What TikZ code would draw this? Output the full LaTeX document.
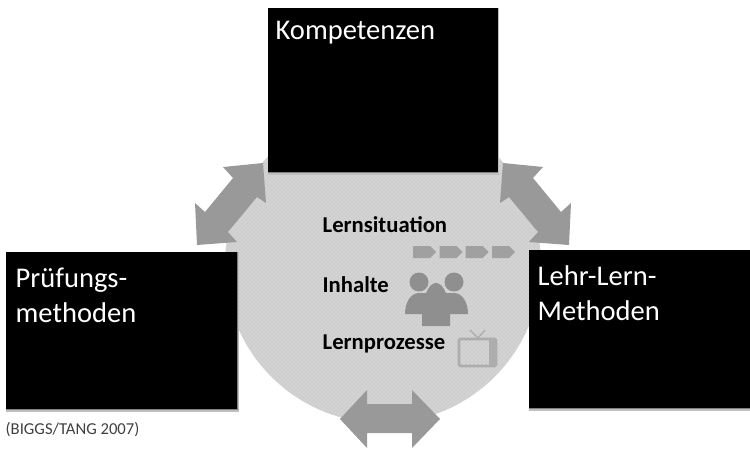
\documentclass[tikz,border=0pt]{standalone}
\usepackage{fontspec}
\setmainfont{Carlito}
\usepackage{tikz}
\usetikzlibrary{patterns}

\definecolor{discgray}{gray}{0.83}
\definecolor{dotgray}{gray}{0.72}
\definecolor{arrowgray}{gray}{0.6}
\definecolor{icongray}{gray}{0.56}
\definecolor{tvgray}{gray}{0.68}

\tikzset{
  boxlabel/.style={anchor=west, align=left, text=white, font=\fontsize{21.4}{26}\selectfont, inner sep=0pt},
  midlabel/.style={anchor=west, font=\fontsize{17}{20}\selectfont\bfseries, inner sep=0pt},
}

\begin{document}
\begin{tikzpicture}[x=0.75pt, y=-0.75pt, line width=1pt]

\useasboundingbox (0, 0) rectangle (750, 450);

% draw disc
\fill[color=discgray] (383, 265) circle (158);
\fill[pattern=crosshatch dots, pattern color=dotgray] (383, 265) circle (158);

% draw double arrows
\fill[color=arrowgray] (263, 163) -- (223, 167) -- (233, 178) -- (205, 212) -- (195, 203) -- (197, 245)
                    -- (237, 242) -- (228, 232) -- (257, 197) -- (266, 203) -- cycle;
\fill[color=arrowgray] (503, 163) -- (543, 167) -- (533, 178) -- (561, 212) -- (571, 203) -- (569, 245)
                    -- (529, 242) -- (538, 232) -- (509, 197) -- (500, 203) -- cycle;
\fill[color=arrowgray] (340, 419) -- (367, 390) -- (367, 404) -- (412, 404) -- (412, 390) -- (440, 419)
                    -- (412, 448) -- (412, 433) -- (367, 433) -- (367, 448) -- cycle;

% draw box shadows
\fill[color=black!25] (268, 8) rectangle (499, 175);
\fill[color=black!25] (6, 252) rectangle (239, 412);
\fill[color=black!25] (529, 250) rectangle (750, 411);
\fill[color=black!50] (268, 8) rectangle (498, 173);
\fill[color=black!50] (6, 252) rectangle (238, 410);
\fill[color=black!50] (529, 250) rectangle (750, 409);

% draw boxes
\fill[color=black] (268, 8) rectangle (498, 172);
\fill[color=black] (6, 252) rectangle (237, 409);
\fill[color=black] (529, 250) rectangle (750, 408);

% draw chevrons
\foreach \x in {413, 439.5, 465.5, 492} {
  \fill[color=icongray!85] (\x, 246) -- ++(17, 0) -- ++(6, 6) -- ++(-6, 6) -- ++(-17, 0) -- cycle;
}

% draw people
\fill[color=icongray] (419, 282) circle (9.5);
\fill[color=icongray] (454, 282) circle (9.5);
\fill[color=icongray] (405, 314) .. controls (405, 302) and (411, 293) .. (419, 293)
                   -- (454, 293) .. controls (462, 293) and (468, 302) .. (468, 314) -- cycle;
\fill[color=icongray] (422, 326) -- (422, 312) .. controls (423, 298) and (428, 283) .. (436, 283)
                   .. controls (444, 283) and (449, 298) .. (450, 312) -- (450, 326) -- cycle;

% draw tv
\draw[color=tvgray, line width=2pt, rounded corners=1pt] (459, 339) rectangle (496, 366);
\fill[color=tvgray] (489, 339) rectangle (496, 366);
\draw[color=tvgray, line width=1pt] (470, 330) -- (478, 338) -- (485, 330);

% draw labels
\node[boxlabel] (kompetenzen) at (275, 33) {Kompetenzen};
\node[boxlabel] (pruefung) at (15, 295) {Prüfungs-\\methoden};
\node[boxlabel] (lehrlern) at (537, 293) {Lehr-Lern-\\Methoden};

\node[midlabel] (lernsituation) at (322, 225) {Lernsituation};
\node[midlabel] (inhalte) at (322, 285) {Inhalte};
\node[midlabel] (lernprozesse) at (322, 344) {Lernprozesse};

\node[anchor=west, inner sep=0pt, text=black!75, font=\fontsize{12.5}{14}\selectfont] (quelle) at (5, 430) {(BIGGS/TANG 2007)};

\end{tikzpicture}
\end{document}
